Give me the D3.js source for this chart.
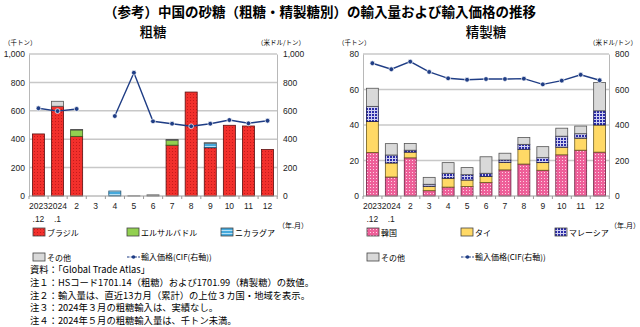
<!DOCTYPE html>
<html>
<head>
<meta charset="utf-8">
<script src="https://cdn.jsdelivr.net/npm/d3@7"></script>
<style>
  body { margin: 0; background: #fff; }
  svg { display: block; font-family: "Liberation Sans", "Noto Sans CJK JP", sans-serif; }
  .jp { font-family: "Noto Sans CJK JP", sans-serif; }
</style>
</head>
<body>
<svg id="chart" width="640" height="327"></svg>
<script>
// months, tick labels
const monthLabels = [["2023", ".12"], ["2024", ".1"], ["2"], ["3"], ["4"], ["5"], ["6"], ["7"], ["8"], ["9"], ["10"], ["11"], ["12"]]

// 粗糖 (千トン) / price (米ドル/トン)
const rawBrazil = [437, 632, 420, 0, 0, 0, 0, 358, 732, 340, 498, 493, 327]
const rawElSalvador = [0, 0, 45, 0, 0, 0, 0, 35, 0, 0, 0, 0, 0]
const rawNicaragua = [0, 0, 0, 0, 35, 0, 0, 0, 0, 32, 0, 0, 0]
const rawOther = [0, 35, 4, 0, 0, 0.8, 8, 5, 0, 3, 0, 0, 0]
const rawPrice = [618, 598, 613, null, 563, 868, 526, 509, 491, 509, 535, 512, 530]
const rawTicks = [0, 200, 400, 600, 800, 1000]

// 精製糖
const refKorea = [24.5, 10.7, 21.5, 3.0, 5.0, 5.3, 7.6, 14.7, 18.0, 14.5, 23.2, 25.8, 24.7]
const refThai = [17.5, 7.9, 3.2, 2.5, 5.0, 3.7, 3.4, 4.3, 8.3, 4.3, 4.3, 6.8, 15.3]
const refMalaysia = [8.5, 4.5, 1.1, 1.1, 2.8, 3.0, 1.8, 1.3, 2.8, 2.8, 6.2, 2.5, 8.0]
const refOther = [10.2, 6.4, 3.8, 3.9, 6.0, 4.0, 9.3, 3.8, 3.9, 6.2, 4.5, 4.3, 16.0]
const refPrice = [748, 714, 757, 699, 663, 655, 659, 659, 661, 629, 650, 683, 652]
const refTicks = [0, 20, 40, 60, 80]
const refPriceTicks = [0, 200, 400, 600, 800]

const notes = [
    "資料：「Global Trade Atlas」",
    "注１：HSコード1701.14（粗糖）および1701.99（精製糖）の数値。",
    "注２：輸入量は、直近13カ月（累計）の上位３カ国・地域を表示。",
    "注３：2024年３月の粗糖輸入は、実績なし。",
    "注４：2024年５月の粗糖輸入量は、千トン未満。"
]

const LINE_COLOR = "#1f3d85"
const svg = d3.select("#chart")
const defs = svg.append("defs")

// fill patterns
function dotPattern(id, base, dot) {
    const p = defs.append("pattern").attr("id", id).attr("width", 3).attr("height", 3)
        .attr("patternUnits", "userSpaceOnUse")
    p.append("rect").attr("width", 3).attr("height", 3).attr("fill", base)
    p.append("rect").attr("x", 1).attr("y", 1).attr("width", 1).attr("height", 1).attr("fill", dot)
}
dotPattern("pBrazil", "#f2302c", "#c41a1a")
dotPattern("pKorea", "#ee5f99", "#fbd3e4")

const pNic = defs.append("pattern").attr("id", "pNic").attr("width", 3).attr("height", 3)
    .attr("patternUnits", "userSpaceOnUse")
pNic.append("rect").attr("width", 3).attr("height", 3).attr("fill", "#45a9dc")
pNic.append("rect").attr("y", 2).attr("width", 3).attr("height", 1).attr("fill", "#b5e0f5")

const pMal = defs.append("pattern").attr("id", "pMal").attr("width", 3).attr("height", 3)
    .attr("patternUnits", "userSpaceOnUse")
pMal.append("rect").attr("width", 3).attr("height", 3).attr("fill", "#2c2ca8")
pMal.append("rect").attr("y", 2).attr("width", 3).attr("height", 1).attr("fill", "#d0d0f0")
pMal.append("rect").attr("x", 2).attr("width", 1).attr("height", 3).attr("fill", "#d0d0f0")

// title
svg.append("text").attr("class", "jp").attr("x", 320).attr("y", 17)
    .attr("text-anchor", "middle").attr("font-size", 13.5).attr("font-weight", "bold")
    .text("（参考）中国の砂糖（粗糖・精製糖別）の輸入量および輸入価格の推移")

function drawChart(opt) {
    const g = svg.append("g")
    const x = d3.scaleBand().domain(d3.range(monthLabels.length)).range([opt.x0, opt.x1]).paddingInner(0.37).paddingOuter(0.18)
    const y = d3.scaleLinear().domain([0, opt.yMax]).range([196, 54])
    const y2 = d3.scaleLinear().domain([0, opt.y2Max]).range([196, 54])

    g.append("text").attr("class", "jp").attr("x", (opt.x0 + opt.x1) / 2).attr("y", 37)
        .attr("text-anchor", "middle").attr("font-size", 13.5).attr("font-weight", 500).text(opt.title)

    // gridlines
    g.selectAll(".grid").data(opt.ticks.slice(1)).enter().append("line")
        .attr("x1", opt.x0).attr("x2", opt.x1)
        .attr("y1", d => y(d)).attr("y2", d => y(d))
        .attr("stroke", "#c8c8c8").attr("stroke-width", 1.5)

    // axes
    const left = g.append("g").attr("transform", `translate(${opt.x0},0)`)
        .call(d3.axisLeft(y).tickValues(opt.ticks).tickFormat(d3.format(",")).tickSize(0).tickPadding(4))
    const right = g.append("g").attr("transform", `translate(${opt.x1},0)`)
        .call(d3.axisRight(y2).tickValues(opt.y2Ticks).tickFormat(d3.format(",")).tickSize(0).tickPadding(6))
    for (const a of [left, right]) {
        a.select(".domain").attr("stroke", "#b8b8b8")
        a.selectAll("text").attr("font-size", 8.5).attr("fill", "#222")
    }

    // stacked bars
    const rows = monthLabels.map((m, i) => {
        const r = { i }
        opt.series.forEach(s => { r[s.key] = s.values[i] })
        return r
    })
    const stack = d3.stack().keys(opt.series.map(s => s.key))(rows)
    stack.forEach((layer, k) => {
        g.append("g").selectAll("rect").data(layer.filter(d => d[1] - d[0] > 0)).enter().append("rect")
            .attr("x", d => x(d.data.i))
            .attr("width", x.bandwidth())
            .attr("y", d => y(d[1]))
            .attr("height", d => y(d[0]) - y(d[1]))
            .attr("fill", opt.series[k].fill)
            .attr("stroke", opt.series[k].stroke)
            .attr("stroke-width", 0.8)
    })

    // baseline with small ticks
    g.append("line").attr("x1", opt.x0).attr("x2", opt.x1).attr("y1", 196).attr("y2", 196)
        .attr("stroke", "#9a9a9a").attr("stroke-width", 1)
    g.selectAll(".xt").data(d3.range(monthLabels.length + 1)).enter().append("line")
        .attr("x1", i => opt.x0 + i * x.step()).attr("x2", i => opt.x0 + i * x.step())
        .attr("y1", 196).attr("y2", 199).attr("stroke", "#9a9a9a")

    // price line
    const pts = opt.price.map((v, i) => ({ i, v }))
    g.append("path").datum(pts)
        .attr("fill", "none").attr("stroke", LINE_COLOR).attr("stroke-width", 1.4)
        .attr("d", d3.line().defined(d => d.v != null).x(d => x(d.i) + x.bandwidth() / 2).y(d => y2(d.v)))
    g.selectAll(".dot").data(pts.filter(d => d.v != null)).enter().append("circle")
        .attr("cx", d => x(d.i) + x.bandwidth() / 2).attr("cy", d => y2(d.v)).attr("r", 2.4)
        .attr("fill", LINE_COLOR).attr("stroke", "#fff").attr("stroke-width", 0.7)

    // x labels
    monthLabels.forEach((lab, i) => {
        lab.forEach((t, j) => {
            g.append("text").attr("x", x(i) + x.bandwidth() / 2).attr("y", 209 + j * 13)
                .attr("text-anchor", "middle").attr("font-size", 8.5).attr("fill", "#222").text(t)
        })
    })

    // units
    g.append("text").attr("class", "jp").attr("x", opt.x0 - 25).attr("y", 45).attr("font-size", 6.5).text("（千トン）")
    g.append("text").attr("class", "jp").attr("x", opt.x1 + 28).attr("y", 45).attr("text-anchor", "end")
        .attr("font-size", 6.5).text("（米ドル/トン）")
    g.append("text").attr("class", "jp").attr("x", opt.x1 + 1).attr("y", 228).attr("font-size", 7).text("（年.月）")

    // legend
    const legendPos = [[opt.x0 + 4, 228], [opt.x0 + 98, 228], [opt.x0 + 192, 228], [opt.x0 + 4, 253]]
    opt.series.forEach((s, k) => {
        const [lx, ly] = legendPos[k]
        g.append("rect").attr("x", lx).attr("y", ly).attr("width", 12).attr("height", 8)
            .attr("fill", s.fill).attr("stroke", "#444").attr("stroke-width", 0.8)
        g.append("text").attr("class", "jp").attr("x", lx + 14).attr("y", ly + 7.5)
            .attr("font-size", 8).text(s.label)
    })
    const lx = opt.x0 + 98, ly = 257
    g.append("line").attr("x1", lx).attr("x2", lx + 13).attr("y1", ly).attr("y2", ly)
        .attr("stroke", LINE_COLOR).attr("stroke-width", 1.2).attr("stroke-dasharray", "2.5,1.2")
    g.append("circle").attr("cx", lx + 6.5).attr("cy", ly).attr("r", 1.8).attr("fill", LINE_COLOR)
    g.append("text").attr("class", "jp").attr("x", lx + 14).attr("y", ly + 3).attr("font-size", 8)
        .text("輸入価格(CIF(右軸))")
}

drawChart({
    title: "粗糖", x0: 29, x1: 277, yMax: 1000, y2Max: 1000,
    ticks: rawTicks, y2Ticks: rawTicks, price: rawPrice,
    series: [
        { key: "brazil", label: "ブラジル", values: rawBrazil, fill: "url(#pBrazil)", stroke: "#5a1010" },
        { key: "elsalvador", label: "エルサルバドル", values: rawElSalvador, fill: "#92d050", stroke: "#3d5a1e" },
        { key: "nicaragua", label: "ニカラグア", values: rawNicaragua, fill: "url(#pNic)", stroke: "#1e4f6e" },
        { key: "other", label: "その他", values: rawOther, fill: "#d9d9d9", stroke: "#555" }
    ]
})

drawChart({
    title: "精製糖", x0: 363, x1: 609, yMax: 80, y2Max: 800,
    ticks: refTicks, y2Ticks: refPriceTicks, price: refPrice,
    series: [
        { key: "korea", label: "韓国", values: refKorea, fill: "url(#pKorea)", stroke: "#6a2040" },
        { key: "thai", label: "タイ", values: refThai, fill: "#ffd966", stroke: "#6b5a20" },
        { key: "malaysia", label: "マレーシア", values: refMalaysia, fill: "url(#pMal)", stroke: "#1a1a50" },
        { key: "other", label: "その他", values: refOther, fill: "#d9d9d9", stroke: "#555" }
    ]
})

// notes
svg.append("g").selectAll("text").data(notes).enter().append("text")
    .attr("class", "jp").attr("x", 30).attr("y", (d, i) => 273 + i * 12.8)
    .attr("font-size", 9.3).text(d => d)
</script>
</body>
</html>
